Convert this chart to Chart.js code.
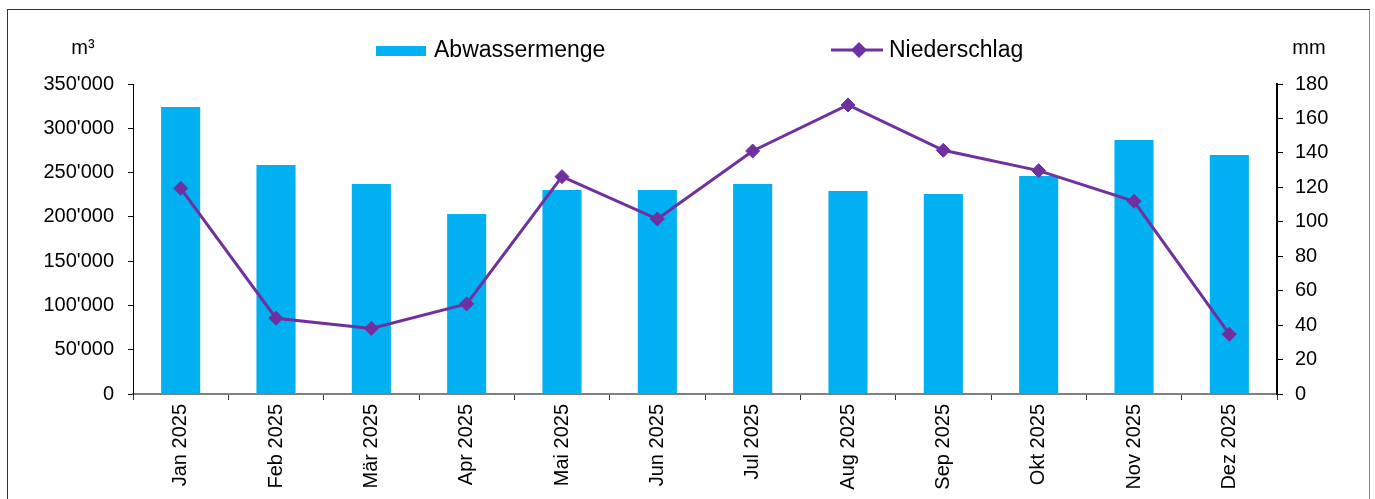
<!DOCTYPE html>
<html lang="de">
<head>
  <meta charset="UTF-8">
  <title>Abwassermenge und Niederschlag 2025</title>
  <script src="https://cdn.jsdelivr.net/npm/chart.js"></script>
  <style>
    html, body {
      margin: 0;
      padding: 0;
      background: #fff;
      overflow: hidden;
    }
    .frame {
      position: absolute;
      left: 7px;
      top: 9px;
      width: 1361px;
      height: 520px;
      border: 1px solid #333;
      border-right-color: #888;
    }
    .wrap {
      position: absolute;
      left: 0;
      top: 0;
      width: 1375px;
      height: 499px;
    }
  </style>
</head>
<body>
  <div class="frame"></div>
  <div class="wrap">
    <canvas id="chart" width="1375" height="499"></canvas>
  </div>

  <script>
    const months = ["Jan 2025", "Feb 2025", "Mär 2025", "Apr 2025", "Mai 2025", "Jun 2025",
                    "Jul 2025", "Aug 2025", "Sep 2025", "Okt 2025", "Nov 2025", "Dez 2025"];
    // m³ per month
    const abwasser = [324000, 258500, 237000, 203200, 230300, 230300,
                      237100, 229200, 225800, 246100, 286800, 269800];
    // mm per month
    const niederschlag = [119.4, 44, 38.1, 52.3, 126.2, 101.6,
                          141.1, 167.8, 141.5, 129.7, 111.9, 34.7];
    const labelBars = "Abwassermenge";
    const labelLine = "Niederschlag";
    const unitLeft = "m³";
    const unitRight = "mm";

    const BLUE = "#00B0F0";
    const PURPLE = "#7030A0";
    const FONT = '"Liberation Sans", Arial, sans-serif';

    const fmt = v => String(v).replace(/\B(?=(\d{3})+(?!\d))/g, "'");

    // legend and unit labels sit outside the plot, drawn by hand
    const extraText = {
      id: "extraText",
      afterDraw(chart) {
        const ctx = chart.ctx;
        ctx.save();
        ctx.fillStyle = "#000";
        ctx.textBaseline = "middle";
        ctx.font = "20px " + FONT;
        ctx.textAlign = "center";
        ctx.fillText(unitLeft, 83, 48);
        ctx.fillText(unitRight, 1309, 48);

        ctx.font = "23px " + FONT;
        ctx.textAlign = "left";
        ctx.textBaseline = "alphabetic";
        ctx.fillStyle = BLUE;
        ctx.fillRect(376, 46, 50, 10);
        ctx.fillStyle = "#000";
        ctx.fillText(labelBars, 434, 57);

        ctx.strokeStyle = PURPLE;
        ctx.lineWidth = 3;
        ctx.beginPath();
        ctx.moveTo(831, 50);
        ctx.lineTo(883, 50);
        ctx.stroke();
        ctx.fillStyle = PURPLE;
        ctx.beginPath();
        ctx.moveTo(859, 42);
        ctx.lineTo(867, 50);
        ctx.lineTo(859, 58);
        ctx.lineTo(851, 50);
        ctx.closePath();
        ctx.fill();
        ctx.fillStyle = "#000";
        ctx.fillText(labelLine, 889, 57);
        ctx.restore();
      }
    };

    const ctx = document.getElementById("chart").getContext("2d");
    new Chart(ctx, {
      data: {
        labels: months,
        datasets: [
          {
            type: "line",
            label: labelLine,
            data: niederschlag,
            yAxisID: "y2",
            borderColor: PURPLE,
            backgroundColor: PURPLE,
            borderWidth: 3,
            pointStyle: "rectRot",
            pointRadius: 7,
            pointBorderWidth: 1,
            tension: 0,
            order: 0
          },
          {
            type: "bar",
            label: labelBars,
            data: abwasser,
            yAxisID: "y",
            backgroundColor: BLUE,
            barPercentage: 0.41,
            categoryPercentage: 1,
            order: 1
          }
        ]
      },
      options: {
        responsive: false,
        animation: false,
        layout: { padding: { top: 84, left: 0, right: 0, bottom: 0 } },
        plugins: {
          legend: { display: false },
          tooltip: { enabled: false }
        },
        scales: {
          x: {
            offset: true,
            grid: {
              offset: true,
              drawOnChartArea: false,
              tickLength: 6,
              tickColor: "#333"
            },
            border: { color: "#808080", width: 2 },
            ticks: {
              color: "#000",
              font: { family: FONT, size: 20 },
              minRotation: 90,
              maxRotation: 90,
              padding: 4
            },
            afterFit: s => { s.height = 105; }
          },
          y: {
            position: "left",
            min: 0,
            max: 350000,
            grid: { drawOnChartArea: false, tickLength: 5, tickColor: "#000" },
            border: { color: "#000", width: 1 },
            ticks: {
              stepSize: 50000,
              color: "#000",
              font: { family: FONT, size: 20 },
              padding: 14,
              callback: v => fmt(v)
            },
            afterFit: s => { s.width = 133; }
          },
          y2: {
            position: "right",
            min: 0,
            max: 180,
            grid: { drawOnChartArea: false, tickLength: 6, tickColor: "#000" },
            border: { color: "#000", width: 2 },
            ticks: {
              stepSize: 20,
              color: "#000",
              font: { family: FONT, size: 20 },
              padding: 12
            },
            afterFit: s => { s.width = 98; }
          }
        }
      },
      plugins: [extraText]
    });
  </script>
</body>
</html>
